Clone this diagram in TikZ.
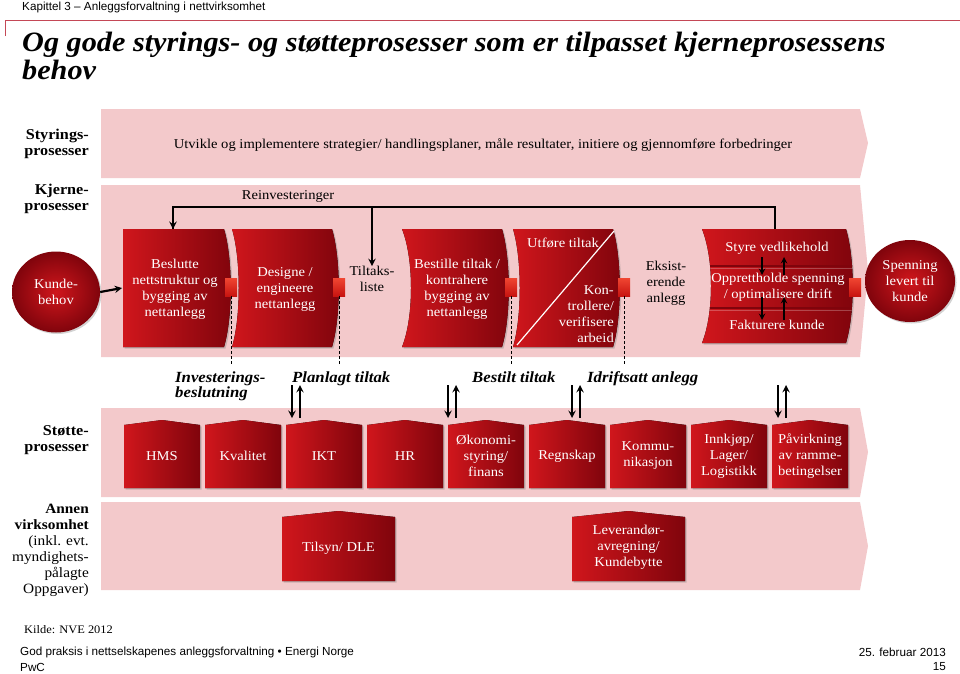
\documentclass[tikz,border=0pt]{standalone}
\usepackage{fontspec}
\setmainfont{Liberation Serif}[FakeStretch=1.08]
\newfontfamily\arialfont{Liberation Sans}
\usepackage{tikz}
\usetikzlibrary{shapes.geometric,shadows}

\definecolor{rosa}{RGB}{243,201,203}
\definecolor{linjerod}{RGB}{196,72,86}
\definecolor{lysrod}{RGB}{208,22,28}
\definecolor{morkrod}{RGB}{128,4,12}
\definecolor{kobtopp}{RGB}{240,70,50}
\definecolor{kobbunn}{RGB}{200,20,16}

\tikzset{
  band/.style={fill=rosa},
  boks/.style={left color=lysrod, right color=morkrod,
    drop shadow={opacity=0.35, shadow xshift=1.5pt, shadow yshift=-1.5pt}},
  tekst/.style={text=white, align=center, inner sep=0pt, font=\fontsize{13.5}{16}\selectfont},
  svart/.style={text=black, align=center, inner sep=0pt, font=\fontsize{13.5}{16}\selectfont},
  venstre/.style={anchor=east, align=right, inner sep=0pt, font=\bfseries\fontsize{15}{16.5}\selectfont},
  milepel/.style={anchor=base west, align=left, inner sep=0pt, font=\bfseries\itshape\fontsize{15.5}{15}\selectfont},
  sirkel/.style={ellipse, inner color=lysrod, outer color=morkrod, text=white, align=center,
    inner sep=0pt, font=\fontsize{13.5}{16}\selectfont,
    drop shadow={opacity=0.35, shadow xshift=1.5pt, shadow yshift=-1.5pt}},
  kobling/.style={rectangle, minimum width=12, minimum height=18, inner sep=0pt,
    top color=kobtopp, bottom color=kobbunn},
  pil/.style={->, line width=2.2pt},
  stiplet/.style={densely dashed, line width=0.8pt},
  fot/.style={inner sep=0pt, font=\arialfont\fontsize{11.7}{14}\selectfont}
}

\newcommand{\kbokssti}[5]{(#1,#3) -- (#2,#3) .. controls +(9,30) and +(9,-30) .. (#2,#4) -- (#1,#4) .. controls +(#5,-30) and +(#5,30) .. (#1,#3) -- cycle}

\begin{document}
\begin{tikzpicture}[x=1pt, y=-1pt, >=stealth]
\useasboundingbox (0,0) rectangle (960,673);

\node[fot, anchor=base west] (kapittel) at (22,10)
  {Kapittel 3 – Anleggsforvaltning i nettvirksomhet};
\draw[linjerod, line width=1pt] (5,36) -- (5,20) -- (960,20);
\node[anchor=base west, align=left, inner sep=0pt, font=\bfseries\itshape\fontsize{28}{28}\selectfont] (tittel) at (22,79)
  {Og gode styrings- og støtteprosesser som er tilpasset kjerneprosessens\\behov};

\fill[band] (101,109) -- (860,109) -- (868,143) -- (860,178) -- (101,178) -- cycle;
\fill[band] (101,185) -- (860,185) -- (868,271) -- (860,357) -- (101,357) -- cycle;
\fill[band] (101,408) -- (860,408) -- (868,452) -- (860,497) -- (101,497) -- cycle;
\fill[band] (101,502) -- (860,502) -- (868,546) -- (860,590) -- (101,590) -- cycle;

\node[venstre] (styr) at (89,144) {Styrings-\\prosesser};
\node[venstre] (kjerne) at (89,199) {Kjerne-\\prosesser};
\node[venstre] (stotte) at (89,440) {Støtte-\\prosesser};
\node[venstre, font=\fontsize{14.2}{16}\selectfont] (annen) at (89,550)
  {\textbf{Annen}\\\textbf{virksomhet}\\(inkl. evt.\\myndighets-\\pålagte\\Oppgaver)};

\node[svart] (utvikle) at (483,145)
  {Utvikle og implementere strategier/ handlingsplaner, måle resultater, initiere og gjennomføre forbedringer};
\node[svart] (reinv) at (288,196) {Reinvesteringer};

\fill[boks] \kbokssti{123}{224}{229}{347}{0};
\fill[boks] \kbokssti{232}{332}{229}{347}{9};
\fill[boks] \kbokssti{402}{502}{229}{347}{12};
\fill[boks] \kbokssti{513}{613}{229}{347}{9};
\fill[boks] \kbokssti{702}{846}{229}{343}{12};
\begin{scope}
  \clip \kbokssti{702}{846}{229}{343}{12};
  \draw[morkrod, line width=1.5pt] (700,266) -- (860,266);
  \draw[morkrod, line width=1.5pt] (700,308) -- (860,308);
  \draw[white, opacity=0.25, line width=1pt] (700,268) -- (860,268);
  \draw[white, opacity=0.25, line width=1pt] (700,310) -- (860,310);
\end{scope}
\draw[white, line width=1.2pt] (517,345) -- (614,231);

\node[sirkel, minimum width=88, minimum height=81] (kunde) at (56,292) {Kunde-\\behov};
\node[sirkel, minimum width=90, minimum height=82] (spenning) at (910,281) {Spenning\\levert til\\kunde};

\node[tekst] (b1) at (175,289) {Beslutte\\nettstruktur og\\bygging av\\nettanlegg};
\node[tekst] (b2) at (285,289) {Designe /\\engineere\\nettanlegg};
\node[svart] (tiltak) at (372,279) {Tiltaks-\\liste};
\node[tekst] (b3) at (457,289) {Bestille tiltak /\\kontrahere\\bygging av\\nettanlegg};
\node[tekst] (b4a) at (563,243) {Utføre tiltak};
\node[tekst, anchor=east, align=right] (b4b) at (614,314) {Kon-\\trollere/\\verifisere\\arbeid};
\node[svart] (eksist) at (666,283) {Eksist-\\erende\\anlegg};
\node[tekst] (b5a) at (777,248) {Styre vedlikehold};
\node[tekst] (b5b) at (778,287) {Opprettholde spenning\\/ optimalisere drift};
\node[tekst] (b5c) at (777,325) {Fakturere kunde};

\node[kobling] (k1) at (231,287) {};
\node[kobling] (k2) at (339,287) {};
\node[kobling] (k3) at (511,287) {};
\node[kobling] (k4) at (624,287) {};
\node[kobling] (k5) at (855,287) {};

\coordinate (b1w) at (122,288);
\coordinate (b1n) at (173,229);
\coordinate (b5n) at (775,229);
\coordinate (rj) at (372,207);
\draw[pil] (kunde.east) -- (b1w);
\draw[line width=2.2pt] (b5n) -- ++(0,-22) -| (b1n);
\draw[pil] (b1n |- rj) -- (b1n);
\draw[pil] (rj) -- (tiltak.north);

\foreach \k in {1,...,4}{
  \draw[stiplet] (k\k.south) -- ++(0,68);
}

\draw[pil, line width=1.8pt] (762,257) -- (762,275);
\draw[pil, line width=1.8pt] (784,275) -- (784,257);
\draw[pil, line width=1.8pt] (762,297) -- (762,320);
\draw[pil, line width=1.8pt] (784,320) -- (784,297);

\node[milepel] (inv) at (175,397) {Investerings-\\beslutning};
\node[milepel] (plan) at (292,382) {Planlagt tiltak};
\node[milepel] (best) at (472,382) {Bestilt tiltak};
\node[milepel] (drift) at (587,382) {Idriftsatt anlegg};

\foreach \x [count=\i] in {292,448,572,778}{
  \coordinate (ned\i) at (\x,385);
  \coordinate (opp\i) at (\x+8,418);
  \draw[pil] (ned\i) -- ++(0,33);
  \draw[pil] (opp\i) -- ++(0,-33);
}

\foreach \tekst [count=\i] in {HMS, Kvalitet, IKT, HR, {Økonomi-\\styring/\\finans}, Regnskap,
    {Kommu-\\nikasjon}, {Innkjøp/\\Lager/\\Logistikk}, {Påvirkning\\av ramme-\\betingelser}}{
  \pgfmathsetmacro\x{124+81*(\i-1)}
  \fill[boks] (\x,425) -- (\x+38,420) -- (\x+76,425) -- (\x+76,488) -- (\x,488) -- cycle;
  \node[tekst] (s\i) at (\x+38,456) {\tekst};
}

\fill[boks] (282,517) -- (338.5,511) -- (395,517) -- (395,581) -- (282,581) -- cycle;
\node[tekst] (tilsyn) at (338.5,548) {Tilsyn/ DLE};
\fill[boks] (572,517) -- (628.5,511) -- (685,517) -- (685,581) -- (572,581) -- cycle;
\node[tekst] (lev) at (628.5,547) {Leverandør-\\avregning/\\Kundebytte};

\node[anchor=west, inner sep=0pt, font=\fontsize{11.5}{13}\selectfont] (kilde) at (24,630) {Kilde: NVE 2012};
\node[fot, anchor=west] (fot1) at (20,652) {God praksis i nettselskapenes anleggsforvaltning • Energi Norge};
\node[fot, anchor=west] (fot2) at (20,667) {PwC};
\node[fot, anchor=east] (dato) at (946,652) {25. februar 2013};
\node[fot, anchor=east] (side) at (946,667) {15};
\end{tikzpicture}
\end{document}
